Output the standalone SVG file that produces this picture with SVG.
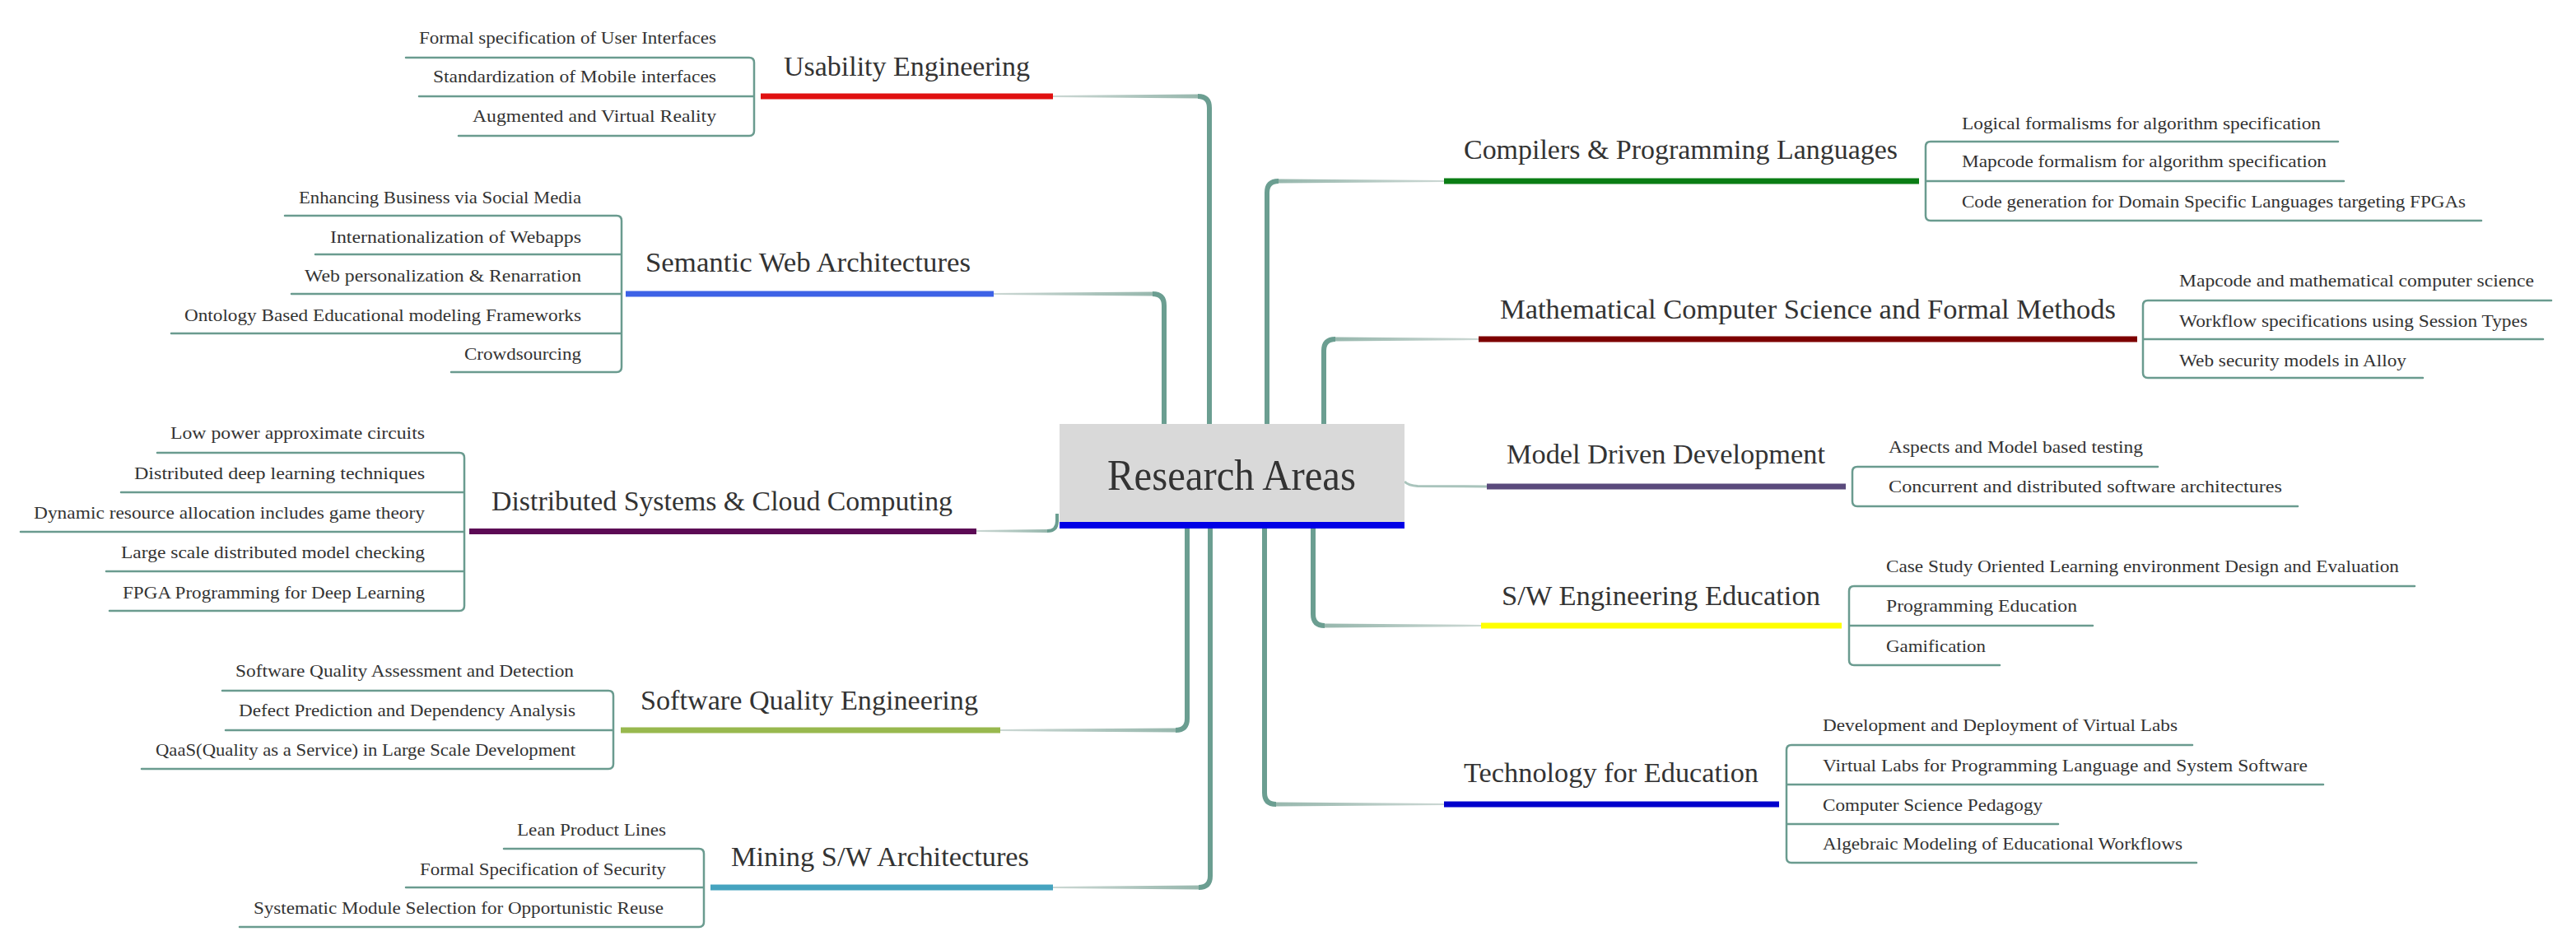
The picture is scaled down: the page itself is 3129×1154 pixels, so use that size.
<svg xmlns="http://www.w3.org/2000/svg" width="3129" height="1154" viewBox="0 0 3129 1154">
<style>
.t{font-family:"Liberation Serif","Times New Roman",serif;fill:#333333}
.c{font-size:22px}
.m{font-size:34px}
.br{fill:none;stroke:#6a9b8f;stroke-width:2.5;stroke-linecap:round}
.v{fill:none;stroke:#6b9e91;stroke-width:6}
.hl{fill:url(#gL)}
.hr{fill:url(#gR)}
</style>
<defs>
<linearGradient id="gL" x1="0" y1="0" x2="1" y2="0"><stop offset="0" stop-color="#cbd7d3"/><stop offset="1" stop-color="#98b8ae"/></linearGradient>
<linearGradient id="gR" x1="1" y1="0" x2="0" y2="0"><stop offset="0" stop-color="#cbd7d3"/><stop offset="1" stop-color="#98b8ae"/></linearGradient>
</defs>
<rect width="3129" height="1154" fill="#ffffff"/>
<g id="connectors">
<!-- main connectors -->
<polygon class="hl" points="1279,116 1455,114.5 1455,119.5 1279,118"/>
<path class="v" d="M1455 117 Q1469 117 1469 131 V515"/>
<polygon class="hl" points="1207,356 1400,354.5 1400,359.5 1207,358"/>
<path class="v" d="M1400 357 Q1414 357 1414 371 V515"/>
<polygon class="hl" points="1186,644 1272,643 1272,647 1186,646"/>
<path class="v" style="stroke-width:4" d="M1272 645 Q1284 645 1284 633 V624"/>
<polygon class="hl" points="1215,886 1428,884.5 1428,889.5 1215,888"/>
<path class="v" d="M1428 887 Q1442 887 1442 873 V642"/>
<polygon class="hl" points="1279,1077 1456,1075.5 1456,1080.5 1279,1079"/>
<path class="v" d="M1456 1078 Q1470 1078 1470 1064 V642"/>
<polygon class="hr" points="1754,219 1553,217.5 1553,222.5 1754,221"/>
<path class="v" d="M1553 220 Q1539 220 1539 234 V515"/>
<polygon class="hr" points="1796,411 1622,409.5 1622,414.5 1796,413"/>
<path class="v" d="M1622 412 Q1608 412 1608 426 V515"/>
<path fill="none" stroke="#a9c4bc" stroke-width="3" d="M1706 585 Q1711 590 1722 590.5 L1806 591"/>
<polygon class="hr" points="1799,759 1609,757.5 1609,762.5 1799,761"/>
<path class="v" d="M1609 760 Q1595 760 1595 746 V642"/>
<polygon class="hr" points="1754,976 1550,974.5 1550,979.5 1754,978"/>
<path class="v" d="M1550 977 Q1536 977 1536 963 V642"/>
<!-- child brackets -->
<path class="br" d="M493 70 H910 Q916 70 916 76 V159 Q916 165 910 165 H557 M509 117 H916"/>
<path class="br" d="M346 262 H749 Q755 262 755 268 V446 Q755 452 749 452 H548 M383 309 H755 M354 357 H755 M208 405 H755"/>
<path class="br" d="M191 550 H558 Q564 550 564 556 V736 Q564 742 558 742 H133 M147 598 H564 M25 646 H564 M129 694 H564"/>
<path class="br" d="M270 839 H739 Q745 839 745 845 V928 Q745 934 739 934 H172 M274 887 H745"/>
<path class="br" d="M612 1031 H849 Q855 1031 855 1037 V1120 Q855 1126 849 1126 H291 M493 1078 H855"/>
<path class="br" d="M2840 172 H2345 Q2339 172 2339 178 V262 Q2339 268 2345 268 H3014 M2339 220 H2847"/>
<path class="br" d="M3099 365 H2609 Q2603 365 2603 371 V453 Q2603 459 2609 459 H2943 M2603 412 H3089"/>
<path class="br" d="M2621 567 H2256 Q2250 567 2250 573 V609 Q2250 615 2256 615 H2791"/>
<path class="br" d="M2933 712 H2252 Q2246 712 2246 718 V802 Q2246 808 2252 808 H2429 M2246 760 H2542"/>
<path class="br" d="M2663 905 H2176 Q2170 905 2170 911 V1042 Q2170 1048 2176 1048 H2668 M2170 953 H2822 M2170 1001 H2500"/>
</g>
<g id="root">
<rect x="1287" y="515" width="419" height="119" fill="#d9d9d9"/>
<rect x="1287" y="634" width="419" height="8" fill="#0000e6"/>
<text class="t" x="1345" y="595" font-size="52" textLength="302" lengthAdjust="spacingAndGlyphs">Research Areas</text>
</g>
<g id="usability">
<rect x="924" y="113.5" width="355" height="7" fill="#e01010"/>
<text class="t m" x="952" y="92" textLength="299" lengthAdjust="spacingAndGlyphs">Usability Engineering</text>
<text class="t c" x="509" y="53" textLength="361" lengthAdjust="spacingAndGlyphs">Formal specification of User Interfaces</text>
<text class="t c" x="526" y="100" textLength="344" lengthAdjust="spacingAndGlyphs">Standardization of Mobile interfaces</text>
<text class="t c" x="574" y="148" textLength="296" lengthAdjust="spacingAndGlyphs">Augmented and Virtual Reality</text>
</g>
<g id="semantic-web">
<rect x="760" y="353.5" width="447" height="7" fill="#3d62e6"/>
<text class="t m" x="784" y="330" textLength="395" lengthAdjust="spacingAndGlyphs">Semantic Web Architectures</text>
<text class="t c" x="363" y="247" textLength="343" lengthAdjust="spacingAndGlyphs">Enhancing Business via Social Media</text>
<text class="t c" x="401" y="295" textLength="305" lengthAdjust="spacingAndGlyphs">Internationalization of Webapps</text>
<text class="t c" x="370" y="342" textLength="336" lengthAdjust="spacingAndGlyphs">Web personalization &amp; Renarration</text>
<text class="t c" x="224" y="390" textLength="482" lengthAdjust="spacingAndGlyphs">Ontology Based Educational modeling Frameworks</text>
<text class="t c" x="564" y="437" textLength="142" lengthAdjust="spacingAndGlyphs">Crowdsourcing</text>
</g>
<g id="distributed">
<rect x="570" y="642" width="616" height="7" fill="#5c0a55"/>
<text class="t m" x="597" y="620" textLength="560" lengthAdjust="spacingAndGlyphs">Distributed Systems &amp; Cloud Computing</text>
<text class="t c" x="207" y="533" textLength="309" lengthAdjust="spacingAndGlyphs">Low power approximate circuits</text>
<text class="t c" x="163" y="582" textLength="353" lengthAdjust="spacingAndGlyphs">Distributed deep learning techniques</text>
<text class="t c" x="41" y="630" textLength="475" lengthAdjust="spacingAndGlyphs">Dynamic resource allocation includes game theory</text>
<text class="t c" x="147" y="678" textLength="369" lengthAdjust="spacingAndGlyphs">Large scale distributed model checking</text>
<text class="t c" x="149" y="727" textLength="367" lengthAdjust="spacingAndGlyphs">FPGA Programming for Deep Learning</text>
</g>
<g id="software-quality">
<rect x="754" y="883.5" width="461" height="7" fill="#98b84e"/>
<text class="t m" x="778" y="862" textLength="410" lengthAdjust="spacingAndGlyphs">Software Quality Engineering</text>
<text class="t c" x="286" y="822" textLength="411" lengthAdjust="spacingAndGlyphs">Software Quality Assessment and Detection</text>
<text class="t c" x="290" y="870" textLength="409" lengthAdjust="spacingAndGlyphs">Defect Prediction and Dependency Analysis</text>
<text class="t c" x="189" y="918" textLength="510" lengthAdjust="spacingAndGlyphs">QaaS(Quality as a Service) in Large Scale Development</text>
</g>
<g id="mining">
<rect x="863" y="1074.5" width="416" height="7" fill="#45a3bf"/>
<text class="t m" x="888" y="1052" textLength="362" lengthAdjust="spacingAndGlyphs">Mining S/W Architectures</text>
<text class="t c" x="628" y="1015" textLength="181" lengthAdjust="spacingAndGlyphs">Lean Product Lines</text>
<text class="t c" x="510" y="1063" textLength="299" lengthAdjust="spacingAndGlyphs">Formal Specification of Security</text>
<text class="t c" x="308" y="1110" textLength="498" lengthAdjust="spacingAndGlyphs">Systematic Module Selection for Opportunistic Reuse</text>
</g>
<g id="compilers">
<rect x="1754" y="216.5" width="577" height="7" fill="#0a7d14"/>
<text class="t m" x="1778" y="193" textLength="527" lengthAdjust="spacingAndGlyphs">Compilers &amp; Programming Languages</text>
<text class="t c" x="2383" y="157" textLength="436" lengthAdjust="spacingAndGlyphs">Logical formalisms for algorithm specification</text>
<text class="t c" x="2383" y="203" textLength="443" lengthAdjust="spacingAndGlyphs">Mapcode formalism for algorithm specification</text>
<text class="t c" x="2383" y="252" textLength="612" lengthAdjust="spacingAndGlyphs">Code generation for Domain Specific Languages targeting FPGAs</text>
</g>
<g id="math-cs">
<rect x="1796" y="408.5" width="800" height="7" fill="#7d0000"/>
<text class="t m" x="1822" y="387" textLength="748" lengthAdjust="spacingAndGlyphs">Mathematical Computer Science and Formal Methods</text>
<text class="t c" x="2647" y="348" textLength="431" lengthAdjust="spacingAndGlyphs">Mapcode and mathematical computer science</text>
<text class="t c" x="2647" y="397" textLength="423" lengthAdjust="spacingAndGlyphs">Workflow specifications using Session Types</text>
<text class="t c" x="2647" y="445" textLength="276" lengthAdjust="spacingAndGlyphs">Web security models in Alloy</text>
</g>
<g id="model-driven">
<rect x="1806" y="587.5" width="436" height="7" fill="#5a4a7c"/>
<text class="t m" x="1830" y="563" textLength="387" lengthAdjust="spacingAndGlyphs">Model Driven Development</text>
<text class="t c" x="2294" y="550" textLength="309" lengthAdjust="spacingAndGlyphs">Aspects and Model based testing</text>
<text class="t c" x="2294" y="598" textLength="478" lengthAdjust="spacingAndGlyphs">Concurrent and distributed software architectures</text>
</g>
<g id="sw-education">
<rect x="1799" y="756.5" width="438" height="7" fill="#ffff00"/>
<text class="t m" x="1824" y="735" textLength="387" lengthAdjust="spacingAndGlyphs">S/W Engineering Education</text>
<text class="t c" x="2291" y="695" textLength="623" lengthAdjust="spacingAndGlyphs">Case Study Oriented Learning environment Design and Evaluation</text>
<text class="t c" x="2291" y="743" textLength="232" lengthAdjust="spacingAndGlyphs">Programming Education</text>
<text class="t c" x="2291" y="792" textLength="121" lengthAdjust="spacingAndGlyphs">Gamification</text>
</g>
<g id="tech-education">
<rect x="1754" y="973.5" width="407" height="7" fill="#0000cc"/>
<text class="t m" x="1778" y="950" textLength="358" lengthAdjust="spacingAndGlyphs">Technology for Education</text>
<text class="t c" x="2214" y="888" textLength="431" lengthAdjust="spacingAndGlyphs">Development and Deployment of Virtual Labs</text>
<text class="t c" x="2214" y="937" textLength="589" lengthAdjust="spacingAndGlyphs">Virtual Labs for Programming Language and System Software</text>
<text class="t c" x="2214" y="985" textLength="267" lengthAdjust="spacingAndGlyphs">Computer Science Pedagogy</text>
<text class="t c" x="2214" y="1032" textLength="437" lengthAdjust="spacingAndGlyphs">Algebraic Modeling of Educational Workflows</text>
</g>
</svg>
